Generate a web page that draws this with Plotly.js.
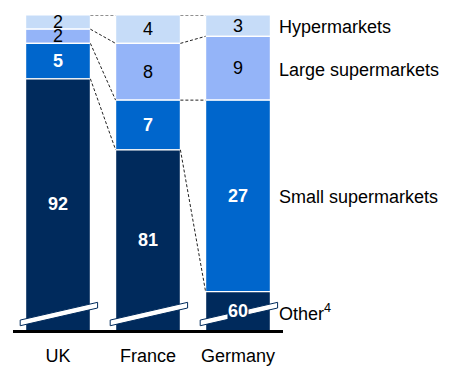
<!DOCTYPE html>
<html><head><meta charset="utf-8">
<script src="https://cdn.plot.ly/plotly-3.0.1.min.js"></script>
<style>html,body{margin:0;padding:0;background:#fff;}#chart{width:449px;height:367px;}</style>
</head><body><div id="chart"></div>
<script>
// Data
const countries = ['UK', 'France', 'Germany'];
const otherVals = [92, 81, 60];
const smallVals = [5, 7, 27];
const largeVals = [2, 8, 9];
const hyperVals = [2, 4, 3];
const seriesNames = ['Hypermarkets', 'Large supermarkets', 'Small supermarkets', 'Other<sup>4</sup>'];

// Styles
const colors = ['#C6DCF8', '#94B4F8', '#0066CC', '#002A5C'];
const labelColors = ['#000', '#000', '#fff', '#fff'];
const FONT = 'Liberation Sans, Arial, sans-serif';
const TOP = 100, YMIN = 55.6, BW = 0.72;

// stack from the top down so every bar ends at 100
const series = [hyperVals, largeVals, smallVals, otherVals];
const bases = [];
let cur = countries.map(() => TOP);
series.forEach(vals => {
  const b = vals.map((v, i) => cur[i] - v);
  bases.push(b);
  cur = b;
});

const traces = series.map((vals, s) => ({
  type: 'bar', x: countries, y: vals, base: bases[s], width: BW,
  name: seriesNames[s], hoverinfo: 'skip',
  marker: {color: colors[s], line: {color: '#fff', width: 1.2}}
}));

const annotations = [];
const shapes = [];
series.forEach((vals, s) => {
  vals.forEach((v, i) => {
    const lo = Math.max(bases[s][i], YMIN);
    const hi = bases[s][i] + v;
    annotations.push({
      x: i, y: (lo + hi) / 2, xref: 'x', yref: 'y', showarrow: false,
      text: s >= 2 ? '<b>' + v + '</b>' : String(v),
      font: {family: FONT, size: 18, color: labelColors[s]},
      bgcolor: (s === 3 && i === 2) ? colors[3] : 'rgba(0,0,0,0)', borderpad: 0
    });
  });
  // series labels at right, aligned with Germany segment
  const g = countries.length - 1;
  const lo = Math.max(bases[s][g], YMIN);
  const hi = bases[s][g] + vals[g];
  annotations.push({
    x: g + 0.43, y: (lo + hi) / 2 + (s === 3 ? -0.25 : -0.2), xref: 'x', yref: 'y', xanchor: 'left',
    showarrow: false, text: seriesNames[s],
    font: {family: FONT, size: 18, color: '#000'}
  });
});

// dotted connectors between bars
for (let i = 0; i < countries.length - 1; i++) {
  const levels = [[TOP, TOP]].concat(bases.slice(0, 3).map(b => [b[i], b[i + 1]]));
  levels.forEach(([a, b]) => {
    shapes.push({type: 'line', xref: 'x', yref: 'y', x0: i + BW / 2, x1: i + 1 - BW / 2,
      y0: a, y1: b, line: {color: '#222', width: 1, dash: '3px,2px'}, layer: 'above'});
  });
}
// axis break slashes
countries.forEach((c, i) => {
  const x0 = i - 0.42, x1 = i + 0.44, y0 = 56.2, y1 = 58.7, t = 0.8;
  shapes.push({type: 'path', xref: 'x', yref: 'y',
    path: `M ${x0} ${y0} L ${x1} ${y1} L ${x1} ${y1 + t} L ${x0} ${y0 + t} Z`,
    fillcolor: '#fff', line: {color: colors[3], width: 1}, layer: 'above'});
});

const layout = {
  width: 449, height: 367,
  margin: {l: 13, r: 166, t: 15, b: 37},
  paper_bgcolor: '#fff', plot_bgcolor: '#fff',
  barmode: 'overlay', showlegend: false,
  font: {family: FONT, size: 18, color: '#000'},
  xaxis: {type: 'category', range: [-0.5, 2.5], showgrid: false, zeroline: false,
    showline: true, linecolor: '#000', linewidth: 3, ticks: '', ticklabelstandoff: 7,
    tickfont: {family: FONT, size: 18, color: '#000'}, fixedrange: true},
  yaxis: {range: [YMIN, TOP], visible: false, fixedrange: true},
  annotations: annotations, shapes: shapes
};
Plotly.newPlot('chart', traces, layout, {displayModeBar: false, staticPlot: true});
</script></body></html>
